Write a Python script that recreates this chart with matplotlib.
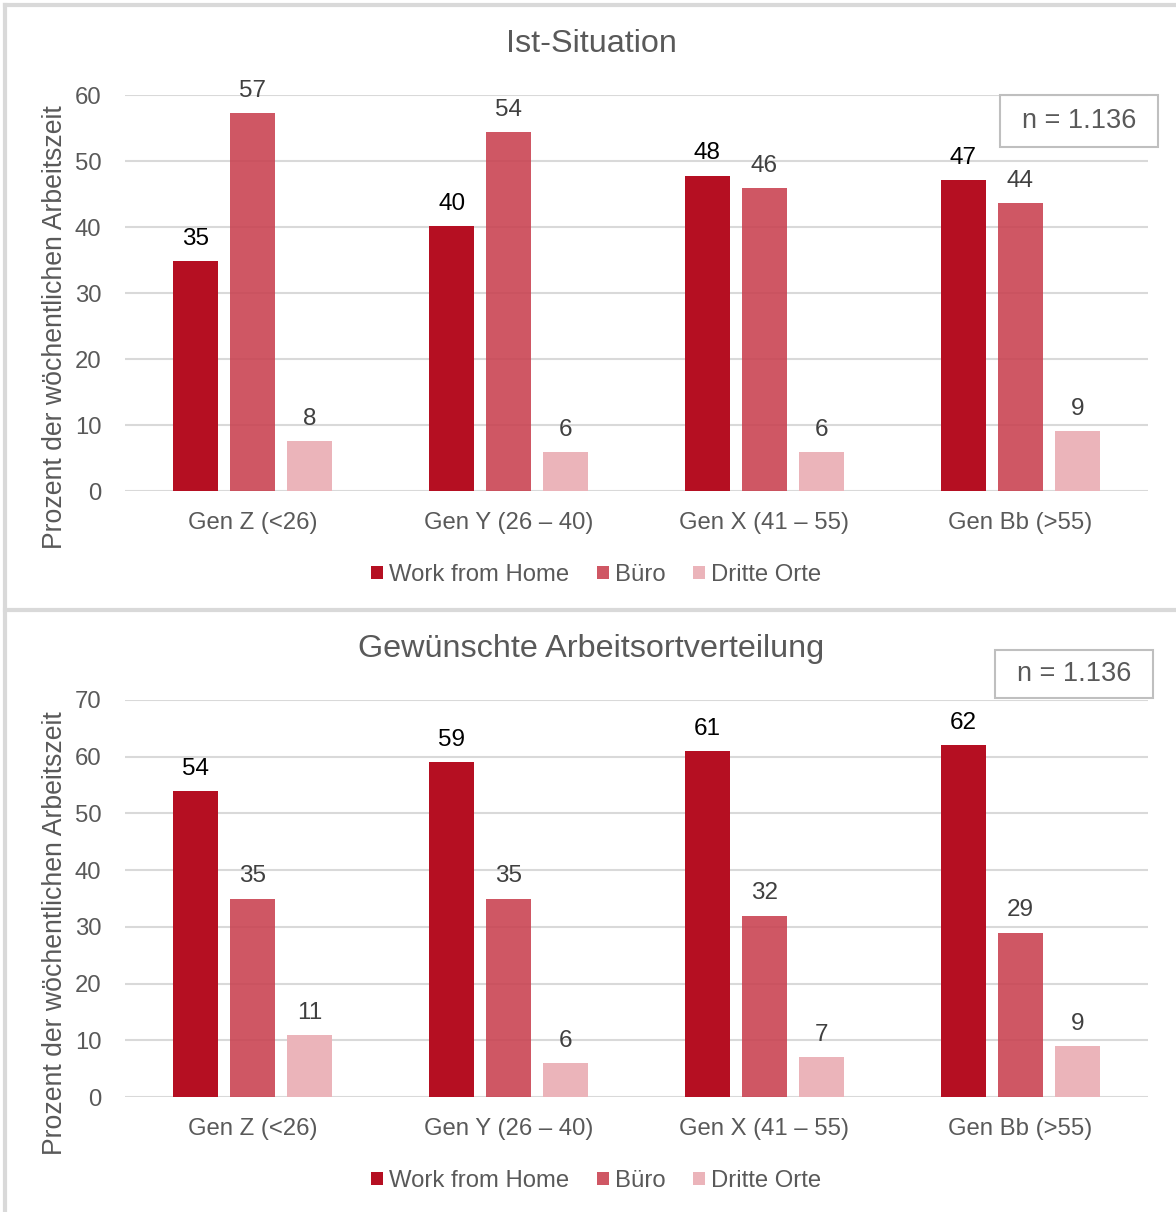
import matplotlib.pyplot as plt
import numpy as np
from matplotlib.lines import Line2D
from matplotlib.patches import Rectangle

plt.rcParams['font.family'] = ['Liberation Sans', 'DejaVu Sans']

groups = ['Gen Z (<26)', 'Gen Y (26 – 40)', 'Gen X (41 – 55)', 'Gen Bb (>55)']
series = ['Work from Home', 'Büro', 'Dritte Orte']

ist_wfh = [34.8, 40.2, 47.8, 47.1]
ist_buero = [57.3, 54.4, 45.9, 43.6]
ist_dritte = [7.6, 5.9, 5.9, 9.1]

wunsch_wfh = [54, 59, 61, 62]
wunsch_buero = [35, 35, 32, 29]
wunsch_dritte = [11, 6, 7, 9]

colors = ['#B50F22', '#C9404F', '#EBB4BA']
alphas = [1.0, 0.88, 1.0]
label_colors = ['#000000', '#404040', '#404040']
grey = '#595959'
grid_c = '#D9D9D9'

W, H = 1176, 1212
fig = plt.figure(figsize=(W / 100, H / 100), dpi=100)

# panel borders
fig.add_artist(Line2D([5 / W, 5 / W], [0, 1 - 5 / H], color=grid_c, lw=3, transform=fig.transFigure))
fig.add_artist(Line2D([5 / W, 1], [1 - 5 / H, 1 - 5 / H], color=grid_c, lw=3, transform=fig.transFigure))
fig.add_artist(Line2D([5 / W, 1], [1 - 610 / H, 1 - 610 / H], color=grid_c, lw=3, transform=fig.transFigure))


def panel(top_px, bottom_px, title, title_y, data, ymax, box):
    ax = fig.add_axes([125 / W, 1 - bottom_px / H, 1023 / W, (bottom_px - top_px) / H])
    x = np.arange(len(groups))
    width = 0.176
    offs = [-0.223, 0, 0.223]
    for i, vals in enumerate(data):
        bars = ax.bar(x + offs[i], vals, width, color=colors[i], alpha=alphas[i],
                      label=series[i], zorder=3)
        ax.bar_label(bars, labels=['%.0f' % v for v in vals], padding=8,
                     fontsize=17.5, color=label_colors[i])
    ax.set_xlim(-0.5, 3.5)
    ax.set_ylim(0, ymax)
    ax.set_yticks(range(0, ymax + 1, 10))
    ax.set_xticks(x)
    ax.set_xticklabels(groups)
    ax.tick_params(axis='both', length=0, labelsize=17.2, colors=grey)
    ax.tick_params(axis='y', pad=17)
    ax.tick_params(axis='x', pad=15)
    ax.grid(axis='y', color=grid_c, lw=1.5, zorder=0)
    ax.set_axisbelow(True)
    for s in ax.spines.values():
        s.set_visible(False)
    ax.set_ylabel('Prozent der wöchentlichen Arbeitszeit', fontsize=19.2, color=grey)
    ax.yaxis.set_label_coords(-0.056, 0.414)
    fig.text(591 / W, 1 - title_y / H, title, ha='center', va='center', fontsize=23.3, color=grey)
    fig.add_artist(Rectangle((box[0] / W, 1 - box[3] / H), (box[2] - box[0]) / W, (box[3] - box[1]) / H,
                             transform=fig.transFigure, fill=False, ec='#BFBFBF', lw=1.5))
    fig.text((box[0] + box[2]) / 2 / W, 1 - (box[1] + box[3]) / 2 / H, 'n = 1.136',
             ha='center', va='center', fontsize=19.5, color=grey)
    leg_y = -(84) / (bottom_px - top_px)
    ax.legend(loc='center', bbox_to_anchor=(471 / 1023, leg_y), ncol=3, frameon=False,
              fontsize=17.2, labelcolor=grey, handlelength=0.5, handleheight=0.5,
              handletextpad=0.25, columnspacing=1.15)
    return ax


panel(95, 491, 'Ist-Situation', 44, [ist_wfh, ist_buero, ist_dritte], 60, (1000, 95, 1158, 147))
panel(700, 1097, 'Gewünschte Arbeitsortverteilung', 649, [wunsch_wfh, wunsch_buero, wunsch_dritte], 70,
      (995, 650, 1153, 698))

fig.savefig('out.png', dpi=100)
